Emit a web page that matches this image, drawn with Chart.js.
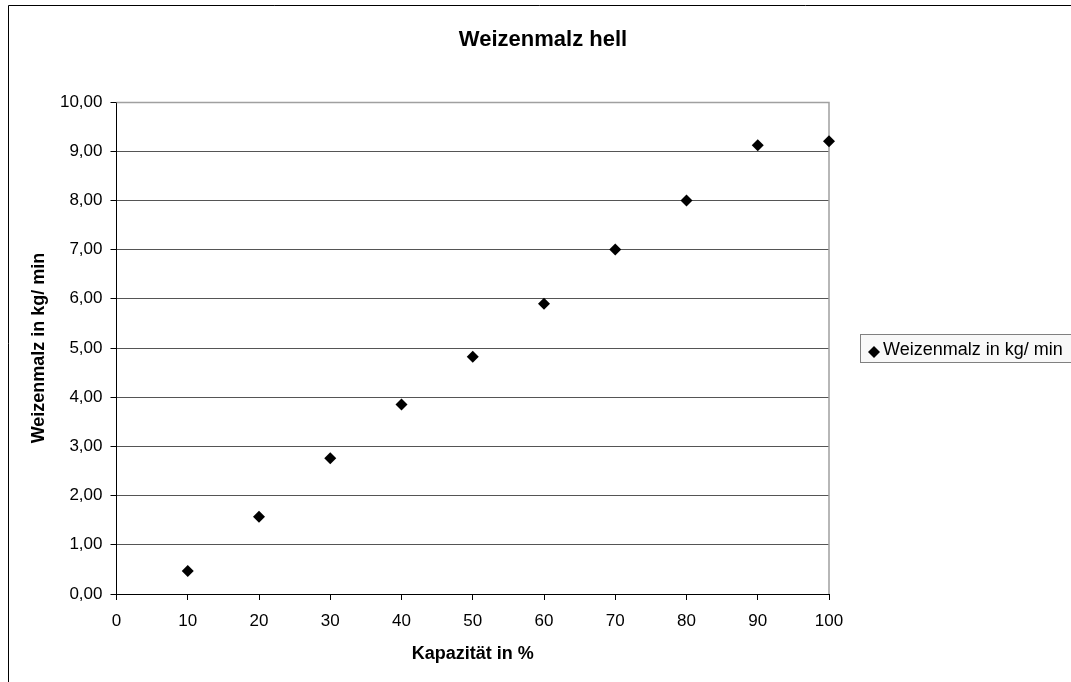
<!DOCTYPE html>
<html>
<head>
<meta charset="utf-8">
<title>Weizenmalz hell</title>
<script src="https://cdn.jsdelivr.net/npm/chart.js@4.4.0/dist/chart.umd.min.js"></script>
<style>
  html, body { margin: 0; padding: 0; background: #fff; overflow: hidden; }
  #wrap { position: relative; width: 1071px; height: 682px; }
</style>
</head>
<body>
<div id="wrap"><canvas id="chart" width="1071" height="682"></canvas></div>
<script>
const TITLE = "Weizenmalz hell",
      X_TITLE = "Kapazität in %",
      Y_TITLE = "Weizenmalz in kg/ min",
      SERIES_NAME = "Weizenmalz in kg/ min";

const capacity = [10, 20, 30, 40, 50, 60, 70, 80, 90, 100];
const flowRate = [0.47, 1.57, 2.76, 3.85, 4.82, 5.90, 7.00, 8.00, 9.12, 9.20];
const xTicks = [0, 10, 20, 30, 40, 50, 60, 70, 80, 90, 100];
const yTicks = [0, 1, 2, 3, 4, 5, 6, 7, 8, 9, 10];

const FONT = "'Liberation Sans', Arial, sans-serif";

// frame, title, plot border and legend box like the Excel original
const excelBits = {
    id: 'excelBits',
    beforeDraw(chart) {
        const ctx = chart.ctx;
        ctx.save();
        ctx.fillStyle = '#fff';
        ctx.fillRect(0, 0, chart.width, chart.height);
        ctx.strokeStyle = '#000';
        ctx.lineWidth = 1;
        ctx.beginPath();
        ctx.moveTo(8.5, chart.height);
        ctx.lineTo(8.5, 5.5);
        ctx.lineTo(chart.width, 5.5);
        ctx.stroke();
        ctx.restore();
    },
    beforeDatasetsDraw(chart) {
        const ctx = chart.ctx, a = chart.chartArea;
        ctx.save();
        // plot area border (top / right), points go on top of it
        ctx.strokeStyle = '#a0a0a0';
        ctx.lineWidth = 1.5;
        ctx.beginPath();
        ctx.moveTo(a.left, a.top + 0.5);
        ctx.lineTo(a.right, a.top + 0.5);
        ctx.lineTo(a.right, a.bottom);
        ctx.stroke();
        ctx.restore();
    },
    afterDraw(chart) {
        const ctx = chart.ctx;
        ctx.save();
        // title
        ctx.fillStyle = '#000';
        ctx.font = `bold 22px ${FONT}`;
        ctx.textAlign = 'center';
        ctx.textBaseline = 'middle';
        ctx.fillText(TITLE, 543, 40);

        // legend
        ctx.fillStyle = '#f8f8f8';
        ctx.fillRect(860.5, 334.5, 220, 28);
        ctx.strokeStyle = '#808080';
        ctx.lineWidth = 1;
        ctx.strokeRect(860.5, 334.5, 220, 28);
        ctx.fillStyle = '#000';
        ctx.beginPath();
        ctx.moveTo(874, 346); ctx.lineTo(880, 352); ctx.lineTo(874, 358); ctx.lineTo(868, 352);
        ctx.closePath();
        ctx.fill();
        ctx.font = `18px ${FONT}`;
        ctx.textAlign = 'left';
        ctx.fillText(SERIES_NAME, 883, 350);
        ctx.restore();
    }
};

new Chart(document.getElementById('chart'), {
    type: 'scatter',
    data: {
        datasets: [{
            label: SERIES_NAME,
            data: capacity.map((x, i) => ({ x, y: flowRate[i] })),
            pointStyle: 'rectRot',
            pointRadius: 6,
            pointHoverRadius: 6,
            backgroundColor: '#000',
            borderColor: '#000',
            borderWidth: 0,
            clip: false
        }]
    },
    options: {
        responsive: false,
        animation: false,
        layout: { padding: { left: 28, top: 102, right: 242, bottom: 17 } },
        plugins: { legend: { display: false }, title: { display: false }, tooltip: { enabled: false } },
        scales: {
            x: {
                type: 'linear', min: 0, max: 100,
                afterFit: s => { s.height = 71; },
                afterBuildTicks: s => { s.ticks = xTicks.map(v => ({ value: v })); },
                ticks: { color: '#000', font: { family: FONT, size: 17 }, padding: 11, maxRotation: 0, autoSkip: false },
                grid: { drawOnChartArea: false, drawTicks: true, tickLength: 6, tickColor: '#000' },
                border: { color: '#000', width: 1 },
                title: { display: true, text: X_TITLE, color: '#000', font: { family: FONT, size: 18, weight: 'bold' }, padding: 0 }
            },
            y: {
                type: 'linear', min: 0, max: 10,
                afterFit: s => { s.width = 88.5; },
                afterBuildTicks: s => { s.ticks = yTicks.map(v => ({ value: v })); },
                ticks: { color: '#000', font: { family: FONT, size: 17 }, padding: 8,
                         callback: v => v.toFixed(2).replace('.', ',') },
                grid: { color: '#555', lineWidth: 1, drawTicks: true, tickLength: 6, tickColor: '#000' },
                border: { color: '#000', width: 1 },
                title: { display: true, text: Y_TITLE, color: '#000', font: { family: FONT, size: 18, weight: 'bold' }, padding: 0 }
            }
        }
    },
    plugins: [excelBits]
});
</script>
</body>
</html>
